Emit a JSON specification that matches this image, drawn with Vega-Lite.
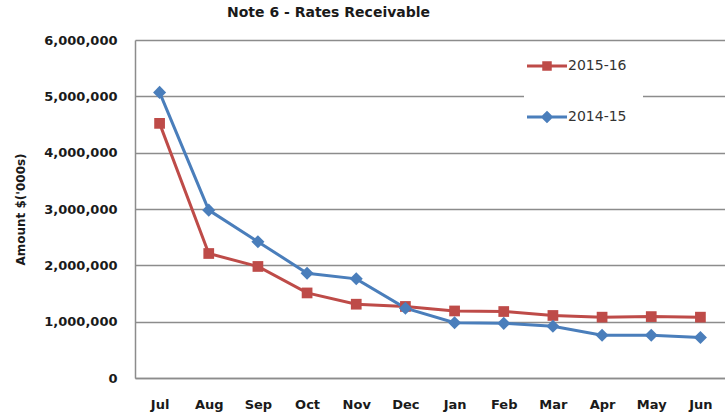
{
  "$schema": "https://vega.github.io/schema/vega-lite/v6.json",
  "width": 590,
  "height": 338,
  "autosize": "none",
  "padding": {"left": 135, "top": 40, "right": 0, "bottom": 39},
  "background": "white",
  "title": {
    "text": "Note 6 - Rates Receivable",
    "anchor": "start",
    "frame": "group",
    "dx": 92,
    "offset": 14,
    "font": "DejaVu Sans",
    "fontSize": 14,
    "fontWeight": "bold",
    "color": "#1a1a1a"
  },
  "data": {
    "values": [
      {"month": "Jul", "series": "2015-16", "value": 4520000},
      {"month": "Aug", "series": "2015-16", "value": 2210000},
      {"month": "Sep", "series": "2015-16", "value": 1980000},
      {"month": "Oct", "series": "2015-16", "value": 1510000},
      {"month": "Nov", "series": "2015-16", "value": 1310000},
      {"month": "Dec", "series": "2015-16", "value": 1270000},
      {"month": "Jan", "series": "2015-16", "value": 1190000},
      {"month": "Feb", "series": "2015-16", "value": 1180000},
      {"month": "Mar", "series": "2015-16", "value": 1110000},
      {"month": "Apr", "series": "2015-16", "value": 1080000},
      {"month": "May", "series": "2015-16", "value": 1090000},
      {"month": "Jun", "series": "2015-16", "value": 1080000},
      {"month": "Jul", "series": "2014-15", "value": 5070000},
      {"month": "Aug", "series": "2014-15", "value": 2980000},
      {"month": "Sep", "series": "2014-15", "value": 2420000},
      {"month": "Oct", "series": "2014-15", "value": 1860000},
      {"month": "Nov", "series": "2014-15", "value": 1760000},
      {"month": "Dec", "series": "2014-15", "value": 1240000},
      {"month": "Jan", "series": "2014-15", "value": 980000},
      {"month": "Feb", "series": "2014-15", "value": 970000},
      {"month": "Mar", "series": "2014-15", "value": 920000},
      {"month": "Apr", "series": "2014-15", "value": 760000},
      {"month": "May", "series": "2014-15", "value": 760000},
      {"month": "Jun", "series": "2014-15", "value": 720000}
    ]
  },
  "encoding": {
    "x": {
      "field": "month",
      "type": "nominal",
      "sort": ["Jul", "Aug", "Sep", "Oct", "Nov", "Dec", "Jan", "Feb", "Mar", "Apr", "May", "Jun"],
      "axis": {
        "title": null,
        "labelAngle": 0,
        "labelFont": "DejaVu Sans",
        "labelFontSize": 13,
        "labelFontWeight": "bold",
        "labelColor": "#1a1a1a",
        "labelPadding": 20,
        "ticks": false,
        "domain": true,
        "domainColor": "#8c8c8c",
        "domainWidth": 1.5,
        "grid": false
      }
    },
    "y": {
      "field": "value",
      "type": "quantitative",
      "scale": {"domain": [0, 6000000], "nice": false},
      "axis": {
        "title": "Amount $('000s)",
        "titleFont": "DejaVu Sans",
        "titleFontSize": 12,
        "titleFontWeight": "bold",
        "titleColor": "#1a1a1a",
        "titlePadding": 16,
        "values": [0, 1000000, 2000000, 3000000, 4000000, 5000000, 6000000],
        "format": ",d",
        "labelFont": "DejaVu Sans",
        "labelFontSize": 13,
        "labelFontWeight": "bold",
        "labelColor": "#1a1a1a",
        "labelPadding": 18,
        "ticks": false,
        "domain": true,
        "domainColor": "#8c8c8c",
        "domainWidth": 1.5,
        "grid": true,
        "gridColor": "#8c8c8c",
        "gridWidth": 1.5
      }
    },
    "color": {
      "field": "series",
      "type": "nominal",
      "scale": {"domain": ["2015-16", "2014-15"], "range": ["#BE4B48", "#4A7EBB"]},
      "legend": {
        "title": null,
        "orient": "none",
        "legendX": 389,
        "legendY": 3,
        "padding": 16,
        "fillColor": "white",
        "symbolSize": 100,
        "symbolStrokeWidth": 3,
        "labelOffset": 14,
        "rowPadding": 30,
        "labelFont": "DejaVu Sans",
        "labelFontSize": 14,
        "labelColor": "#333333",
        "encode": {
          "symbols": {
            "update": {
              "shape": {"signal": "datum.value === '2015-16' ? 'M-4,0H4M-0.65,-0.65H0.65V0.65H-0.65Z' : 'M-4,0H4M0,-0.85L0.85,0L0,0.85L-0.85,0Z'"},
              "fill": {"scale": "color", "field": "value"},
              "stroke": {"scale": "color", "field": "value"},
              "strokeWidth": {"value": 3},
              "opacity": {"value": 1},
              "fillOpacity": {"value": 1}
            }
          }
        }
      }
    }
  },
  "layer": [
    {
      "mark": {"type": "line", "strokeWidth": 3},
      "encoding": {}
    },
    {
      "mark": {"type": "point", "filled": true, "opacity": 1},
      "encoding": {
        "shape": {"condition": {"test": "datum.series === '2015-16'", "value": "square"}, "value": "diamond"},
        "size": {"condition": {"test": "datum.series === '2015-16'", "value": 115}, "value": 170}
      }
    }
  ],
  "config": {
    "view": {"stroke": null}
  }
}
